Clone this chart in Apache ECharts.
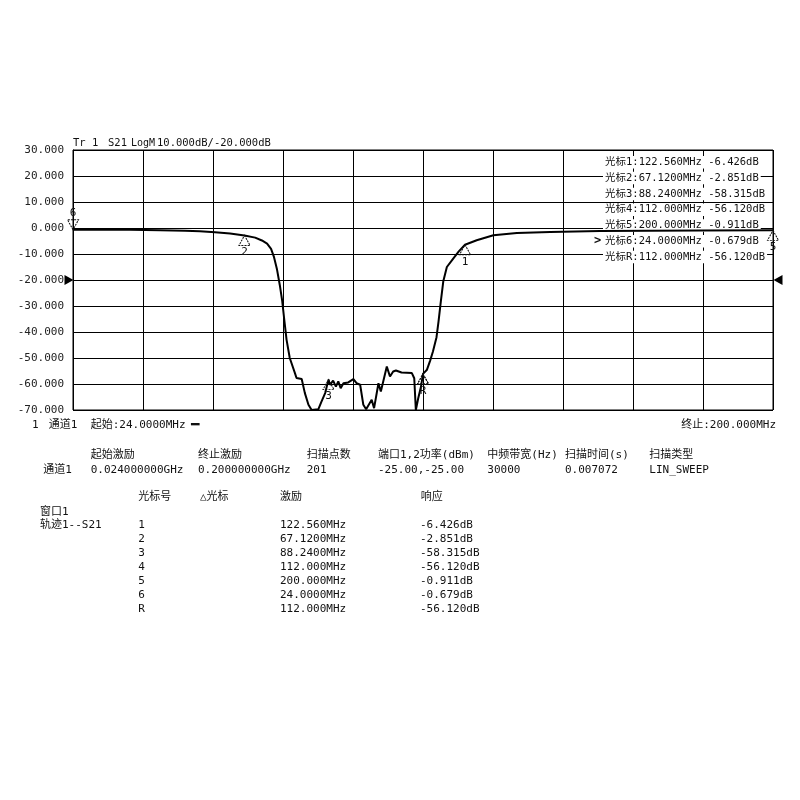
<!DOCTYPE html>
<html><head><meta charset="utf-8">
<script src="https://cdn.jsdelivr.net/npm/echarts@6/dist/echarts.min.js"></script>
<style>html,body{margin:0;padding:0;background:#fff}#c{width:800px;height:800px}</style>
</head><body><div id="c"></div>
<script>
// ---- data ----
const startMHz = 24;
const stopMHz = 200;
const freqMHz = [24.0, 30.8, 38.3, 45.9, 52.2, 55.9, 59.7, 63.5, 67.12, 69.8, 71.5, 72.8, 73.8, 74.5, 75.3, 76.0, 76.6, 77.1, 77.7, 78.5,
  79.8, 80.2, 81.5, 82.3, 83.2, 84.0, 85.7, 86.5, 87.4, 88.24, 88.6, 89.4, 90.1, 90.7, 91.3, 92.0, 93.2, 94.5, 95.3, 96.2,
  97.0, 97.7, 98.2, 99.1, 99.7, 100.8, 101.4, 102.9, 103.7, 104.5, 105.2, 106.6, 109.2, 109.8, 110.2, 110.8, 111.5, 112.0, 113.0, 113.8,
  114.5, 115.4, 115.9, 116.5, 117.1, 118.0, 119.6, 121.0, 122.56, 125.5, 129.7, 135.6, 144.0, 156.5, 169.0, 181.6, 200.0];
const s21dB = [-0.679, -0.65, -0.7, -0.85, -1.05, -1.25, -1.6, -2.1, -2.851, -3.7, -4.8, -6.0, -8.0, -11, -16, -22, -28, -35, -43, -50,
  -55.8, -57.7, -58.1, -63.5, -68, -70, -69.7, -66.7, -63.5, -58.315, -60.3, -58.7, -61, -59, -61.6, -59.7, -59.4, -58.1, -59.7, -60.3,
  -68, -69.7, -70, -66.1, -69.3, -59.7, -62.9, -53.3, -57.1, -55.2, -54.8, -55.6, -55.8, -57.8, -70, -65.5, -61, -56.12, -54.5, -51,
  -47.5, -42, -36, -28, -20.5, -15, -11.8, -9, -6.426, -4.7, -2.8, -1.9, -1.5, -1.2, -1.05, -0.97, -0.911];
const yMin = -70, yMax = 30, yStep = 10;
const refLevelDb = -20;
const markerNames = ['1', '2', '3', '4', '5', '6', 'R'];
const markerFreqMHz = [122.56, 67.12, 88.24, 112.0, 200.0, 24.0, 112.0];
const markerRespDb = [-6.426, -2.851, -58.315, -56.12, -0.911, -0.679, -56.12];
const markerFreqText = ['122.560MHz', '67.1200MHz', '88.2400MHz', '112.000MHz', '200.000MHz', '24.0000MHz', '112.000MHz'];
const markerRespText = ['-6.426dB', '-2.851dB', '-58.315dB', '-56.120dB', '-0.911dB', '-0.679dB', '-56.120dB'];
const headerParts = ['Tr 1', 'S21', 'LogM', '10.000dB/-20.000dB'];
const paramHeaders = ['起始激励', '终止激励', '扫描点数', '端口1,2功率(dBm)', '中频带宽(Hz)', '扫描时间(s)', '扫描类型'];
const paramValues = ['0.024000000GHz', '0.200000000GHz', '201', '-25.00,-25.00', '30000', '0.007072', 'LIN_SWEEP'];
const tableHeaders = ['光标号', '△光标', '激励', '响应'];

// ---- layout ----
const MONO = "'DejaVu Sans Mono', 'Noto Sans CJK SC', monospace";
const G = { left: 73, top: 150, width: 700, height: 260 };
const gfx = [];
function T(text, x, y, o) {
  o = o || {};
  gfx.push({
    type: 'text', x: x, y: y, z: o.z || 1, silent: true,
    style: Object.assign({
      text: text, fontFamily: MONO, fontSize: o.size || 11, fill: '#111',
      align: o.align || 'left', verticalAlign: 'middle', fontWeight: o.weight || 'normal'
    }, o.bg ? { backgroundColor: '#fff', padding: [1, 2, 1, 2] } : {})
  });
}
// header
const headerX = [73, 108, 131, 157];
const headerSize = [10.5, 10.5, 10, 10.5];
headerParts.forEach((t, i) => T(t, headerX[i], 143, { size: headerSize[i] }));
// marker list in the plot
markerNames.forEach((n, i) => {
  const y = 162.3 + i * 15.8;
  T('光标' + n + ':' + markerFreqText[i] + ' ' + markerRespText[i], 603, y, { bg: true, size: 10.5 });
});
T('>', 594, 162.3 + 5 * 15.8, { size: 12, weight: 'bold' });
// status row
T('1', 32, 425); T('通道1', 48.7, 425);
T('起始:' + startMHz.toFixed(4) + 'MHz', 90.7, 425);
T('━', 191, 425, { size: 14 });
T('终止:' + stopMHz.toFixed(3) + 'MHz', 776, 425, { align: 'right' });
// params
const pX = [90.7, 198, 306.7, 378, 487.3, 565, 649.3];
paramHeaders.forEach((t, i) => T(t, pX[i], 455));
T('通道1', 43.3, 470);
paramValues.forEach((t, i) => T(t, pX[i], 470));
// marker table
const tX = [138.3, 200, 280, 420.7];
tableHeaders.forEach((t, i) => T(t, tX[i], 496.7));
T('窗口1', 40, 511.7);
T('轨迹1--S21', 40, 525);
markerNames.forEach((n, i) => {
  const y = 525 + i * 14.05;
  T(n, tX[0], y); T(markerFreqText[i], tX[2], y); T(markerRespText[i], tX[3] - 0.7, y);
});

// markers
const markerData = markerNames.map((n, i) => {
  const up = n !== '6';
  return {
    name: n, coord: [markerFreqMHz[i] - startMHz, markerRespDb[i]],
    symbol: 'triangle', symbolSize: [11, 10], symbolRotate: up ? 0 : 180,
    symbolOffset: [0, up ? 5 : -5],
    itemStyle: { color: 'rgba(255,255,255,0)', borderColor: '#111', borderWidth: 1, borderType: [2, 1] },
    label: { show: n !== '4', formatter: n, position: up ? 'bottom' : 'top', distance: 1,
      color: '#111', fontSize: 11, fontFamily: MONO }
  };
});
const refArrows = [
  { coord: [0, refLevelDb], symbolRotate: -90, symbolOffset: [-4, 0] },
  { coord: [stopMHz - startMHz, refLevelDb], symbolRotate: 90, symbolOffset: [5, 0] }
].map(d => Object.assign(d, {
  symbol: 'triangle', symbolSize: [10, 9], itemStyle: { color: '#000' }, label: { show: false }
}));

const chart = echarts.init(document.getElementById('c'), null, { renderer: 'canvas' });
chart.setOption({
  animation: false,
  backgroundColor: '#fff',
  grid: { left: G.left, top: G.top, width: G.width, height: G.height, show: true, borderColor: '#000', borderWidth: 1 },
  xAxis: {
    type: 'value', min: 0, max: stopMHz - startMHz, interval: (stopMHz - startMHz) / 10,
    axisLabel: { show: false }, axisTick: { show: false },
    axisLine: { lineStyle: { color: '#000' } },
    splitLine: { show: true, lineStyle: { color: '#000', width: 1 } }
  },
  yAxis: {
    type: 'value', min: yMin, max: yMax, interval: yStep,
    axisLabel: { formatter: v => v.toFixed(3), fontFamily: MONO, fontSize: 11, color: '#222', margin: 9 },
    axisTick: { show: false },
    axisLine: { lineStyle: { color: '#000' } },
    splitLine: { show: true, lineStyle: { color: '#000', width: 1 } }
  },
  series: [{
    type: 'line', z: 2, showSymbol: false, silent: true,
    data: freqMHz.map((f, i) => [f - startMHz, s21dB[i]]),
    lineStyle: { color: '#000', width: 2 },
    markPoint: { silent: true, data: markerData.concat(refArrows) }
  }],
  graphic: { elements: gfx }
});
</script></body></html>
